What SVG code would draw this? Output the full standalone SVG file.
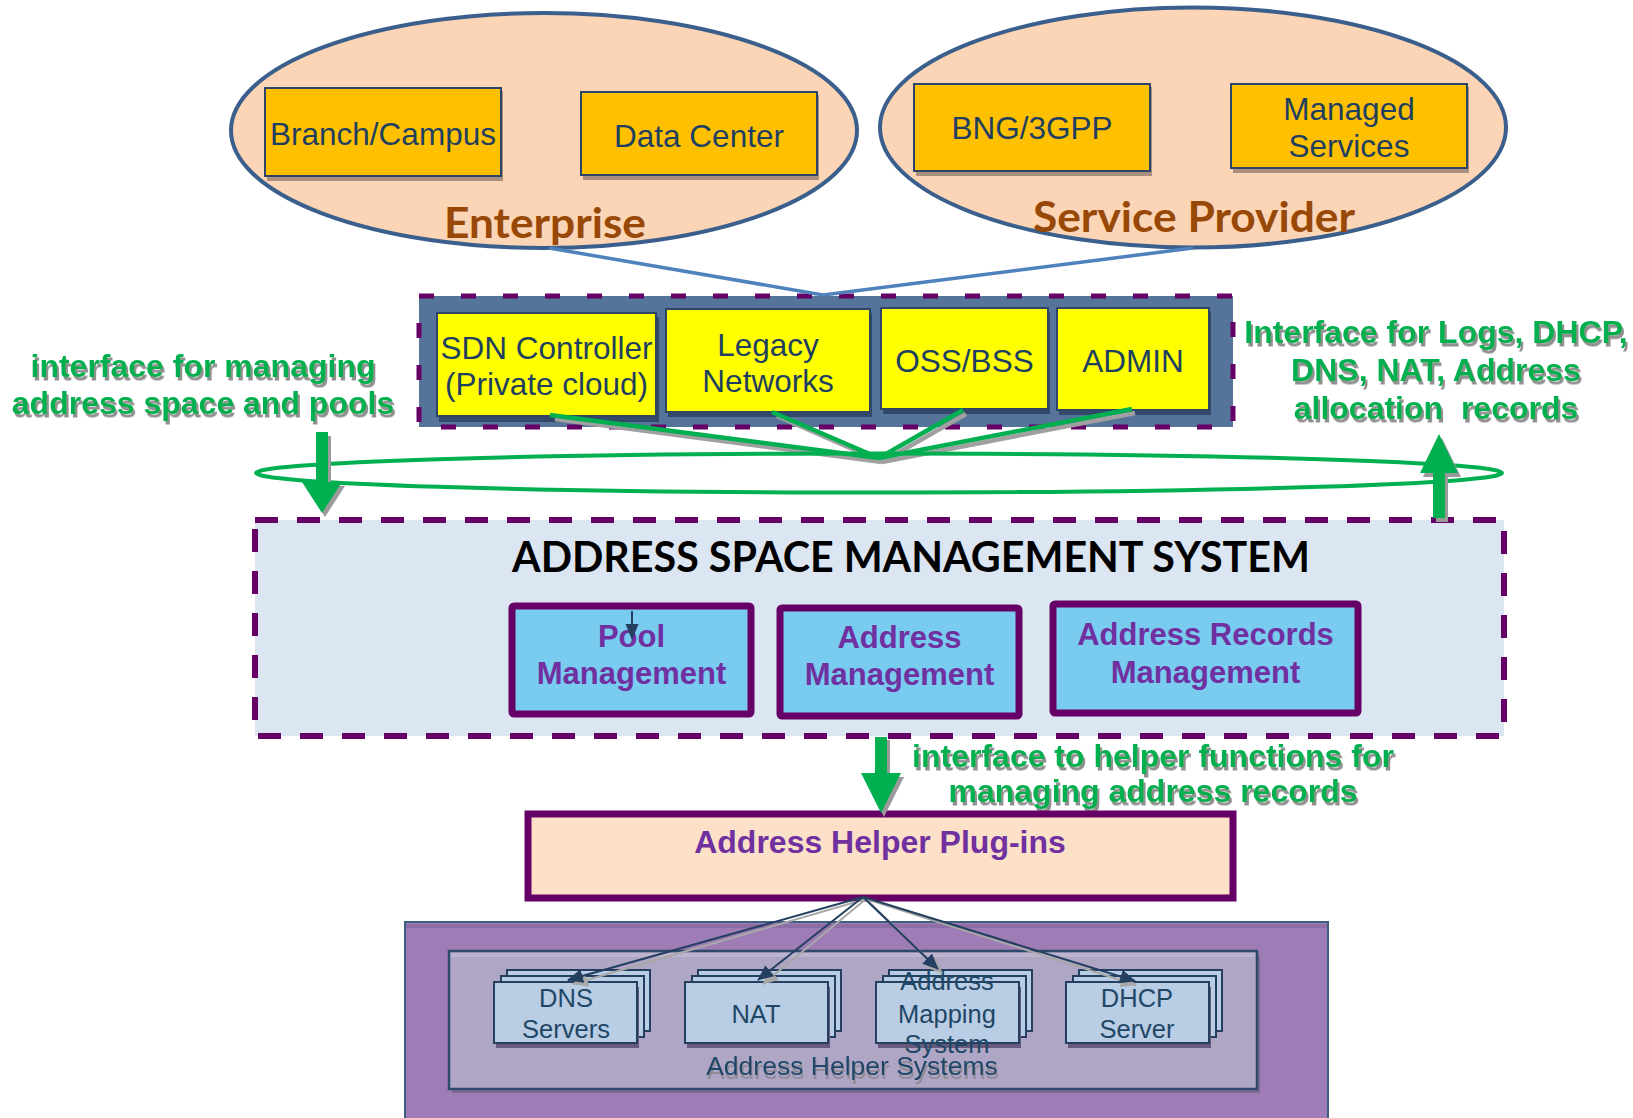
<svg xmlns="http://www.w3.org/2000/svg" width="1633" height="1118" viewBox="0 0 1633 1118">
<defs>
<style>
.sans{font-family:"Liberation Sans",Arial,sans-serif}
.lato{font-family:Lato,"Open Sans",sans-serif;font-weight:bold}
.oell{fill:#fbd5b5;stroke:#3b5f8c;stroke-width:4}
.obox{fill:#ffc000;stroke:#2a4566;stroke-width:2}
.oshd{fill:#a88f80}
.otxt{font-size:31.5px;fill:#1f3f60;text-anchor:middle}
.ybox{fill:#ffff00;stroke:#2f4566;stroke-width:2}
.yshd{fill:#34496a}
.gtxt{font-size:32px;font-weight:bold;fill:#00b050;text-anchor:middle;filter:url(#tsh)}
.pbox{fill:#79cbf0;stroke:#660066;stroke-width:7}
.ptxt{font-size:31px;font-weight:bold;fill:#7030a0;text-anchor:middle}
.sbox{fill:#b9cde5;stroke:#243f60;stroke-width:2}
.sshd{fill:#675a7c}
.stxt{font-size:25.5px;fill:#1f4766;text-anchor:middle}
.garrow{fill:#00b050}
.gshd{fill:#9a9a9a}
.gline{stroke:#00b050;stroke-width:4.5;fill:none}
.glshd{stroke:#a0a0a0;stroke-width:4.5;fill:none}
.conn{stroke:#243f60;stroke-width:2;fill:none;marker-end:url(#ah)}
.connshd{stroke:#a8a8a8;stroke-width:2;fill:none;marker-end:url(#ahs)}
</style>
<filter id="tsh" x="-5%" y="-20%" width="110%" height="150%">
<feDropShadow dx="2" dy="3.5" stdDeviation="0.5" flood-color="#8a8a8a" flood-opacity="0.95"/>
</filter>
<filter id="tsh2" x="-5%" y="-20%" width="110%" height="150%">
<feDropShadow dx="1" dy="4" stdDeviation="0.6" flood-color="#7a7a7a" flood-opacity="0.6"/>
</filter>
<marker id="ah" markerUnits="userSpaceOnUse" markerWidth="16" markerHeight="14" refX="15" refY="7" orient="auto">
<path d="M0,0 L16,7 L0,14 Z" fill="#243f60"/>
</marker>
<marker id="ahs" markerUnits="userSpaceOnUse" markerWidth="16" markerHeight="14" refX="15" refY="7" orient="auto">
<path d="M0,0 L16,7 L0,14 Z" fill="#a8a8a8"/>
</marker>
</defs>
<rect width="1633" height="1118" fill="#ffffff"/>

<!-- Enterprise -->
<g id="enterprise">
<ellipse class="oell" cx="544" cy="130.5" rx="313" ry="117.5"/>
<text class="lato" x="545" y="238" font-size="42" fill="#984807" text-anchor="middle" textLength="202" lengthAdjust="spacingAndGlyphs">Enterprise</text>
</g>
<g id="branch-campus">
<rect class="oshd" x="267" y="91" width="236" height="90"/>
<rect class="obox" x="265" y="88" width="236" height="88"/>
<text class="sans otxt" x="383" y="145">Branch/Campus</text>
</g>
<g id="data-center">
<rect class="oshd" x="583" y="95" width="236" height="85"/>
<rect class="obox" x="581" y="92" width="236" height="83"/>
<text class="sans otxt" x="699" y="147">Data Center</text>
</g>

<!-- Service Provider -->
<g id="service-provider">
<ellipse class="oell" cx="1193" cy="127.5" rx="313" ry="120"/>
<text class="lato" x="1194" y="232" font-size="42" fill="#984807" text-anchor="middle" textLength="322" lengthAdjust="spacingAndGlyphs">Service Provider</text>
</g>
<g id="bng-3gpp">
<rect class="oshd" x="916" y="87" width="236" height="89"/>
<rect class="obox" x="914" y="84" width="236" height="87"/>
<text class="sans otxt" x="1032" y="139">BNG/3GPP</text>
</g>
<g id="managed-services">
<rect class="oshd" x="1233" y="87" width="236" height="86"/>
<rect class="obox" x="1231" y="84" width="236" height="84"/>
<text class="sans otxt" x="1349" y="120">Managed</text>
<text class="sans otxt" x="1349" y="157">Services</text>
</g>

<!-- top container -->
<g id="consumers">
<rect x="419" y="296" width="814" height="131" fill="#56739a" stroke="#660066" stroke-width="5" stroke-dasharray="15 27"/>
</g>
<g id="sdn-controller">
<rect class="yshd" x="439" y="317" width="220" height="105"/>
<rect class="ybox" x="437" y="313" width="219" height="103"/>
<text class="sans otxt" x="546.5" y="359">SDN Controller</text>
<text class="sans otxt" x="546.5" y="395">(Private cloud)</text>
</g>
<g id="legacy-networks">
<rect class="yshd" x="668" y="313" width="204" height="104"/>
<rect class="ybox" x="666" y="309" width="204" height="103"/>
<text class="sans otxt" x="768" y="356">Legacy</text>
<text class="sans otxt" x="768" y="392">Networks</text>
</g>
<g id="oss-bss">
<rect class="yshd" x="883" y="312" width="167" height="102"/>
<rect class="ybox" x="881" y="308" width="167" height="101"/>
<text class="sans otxt" x="964.5" y="372">OSS/BSS</text>
</g>
<g id="admin">
<rect class="yshd" x="1059" y="312" width="152" height="103"/>
<rect class="ybox" x="1057" y="308" width="152" height="102"/>
<text class="sans otxt" x="1133" y="372">ADMIN</text>
</g>

<!-- interface labels -->
<g id="label-left">
<text class="sans gtxt" x="203" y="377">interface for managing</text>
<text class="sans gtxt" x="203" y="414">address space and pools</text>
</g>
<g id="label-right">
<text class="sans gtxt" x="1436" y="343">Interface for Logs, DHCP,</text>
<text class="sans gtxt" x="1436" y="381">DNS, NAT, Address</text>
<text class="sans gtxt" x="1436" y="419" xml:space="preserve" style="white-space:pre">allocation  records</text>
</g>

<!-- ASMS -->
<g id="asms">
<rect x="255" y="520" width="1249" height="216" fill="#dce6f2" stroke="#660066" stroke-width="6" stroke-dasharray="23 19"/>
<text class="lato" x="911" y="572" font-size="42" fill="#000000" text-anchor="middle" textLength="798" lengthAdjust="spacingAndGlyphs">ADDRESS SPACE MANAGEMENT SYSTEM</text>
</g>
<g id="pool-management">
<rect class="pbox" x="512" y="606" width="239" height="108" rx="2"/>
<text class="sans ptxt" x="631.5" y="647">Pool</text>
<text class="sans ptxt" x="631.5" y="684">Management</text>
</g>
<g id="address-management">
<rect class="pbox" x="780" y="608" width="239" height="108" rx="2"/>
<text class="sans ptxt" x="899.5" y="648">Address</text>
<text class="sans ptxt" x="899.5" y="685">Management</text>
</g>
<g id="address-records-management">
<rect class="pbox" x="1053" y="604" width="305" height="109" rx="2"/>
<text class="sans ptxt" x="1205.5" y="645">Address Records</text>
<text class="sans ptxt" x="1205.5" y="683">Management</text>
</g>

<g id="label-helper">
<text class="sans gtxt" x="1153" y="767">interface to helper functions for</text>
<text class="sans gtxt" x="1153" y="802">managing address records</text>
</g>

<!-- Helper plug-ins -->
<g id="address-helper-plugins">
<rect x="528" y="814" width="705" height="84" fill="#fce0c8" stroke="#660066" stroke-width="7"/>
<text class="sans" x="880" y="853" font-size="32" font-weight="bold" fill="#7030a0" text-anchor="middle">Address Helper Plug-ins</text>
</g>

<!-- bottom area -->
<g id="address-helper-area">
<rect x="405" y="922" width="923" height="210" fill="#9e7db6" stroke="#3f5f82" stroke-width="2"/>
<rect x="406" y="924" width="921" height="4" fill="#8d6ea6"/>
</g>
<g id="address-helper-systems">
<rect x="452" y="955" width="808" height="138" fill="#7c6a93"/>
<rect x="449" y="951" width="808" height="138" fill="#afa5c4" stroke="#2e4a6a" stroke-width="2.5"/>
<rect x="451" y="953" width="804" height="4" fill="#bdb4cf"/>
<text class="sans" x="852" y="1075" font-size="26.5" fill="#1f4766" text-anchor="middle" filter="url(#tsh2)">Address Helper Systems</text>
</g>
<g id="dns-servers">
<rect class="sbox" x="507" y="970" width="143" height="61"/>
<rect class="sbox" x="501" y="976" width="143" height="61"/>
<rect class="sshd" x="496" y="987" width="143" height="61"/>
<rect class="sbox" x="494" y="982" width="143" height="61"/>
<text class="sans stxt" x="566" y="1007">DNS</text>
<text class="sans stxt" x="566" y="1038">Servers</text>
</g>
<g id="nat">
<rect class="sbox" x="698" y="970" width="143" height="61"/>
<rect class="sbox" x="692" y="976" width="143" height="61"/>
<rect class="sshd" x="687" y="987" width="143" height="61"/>
<rect class="sbox" x="685" y="982" width="143" height="61"/>
<text class="sans stxt" x="756" y="1023">NAT</text>
</g>
<g id="address-mapping-system">
<rect class="sbox" x="889" y="970" width="143" height="61"/>
<rect class="sbox" x="883" y="976" width="143" height="61"/>
<rect class="sshd" x="878" y="987" width="143" height="61"/>
<rect class="sbox" x="876" y="982" width="143" height="61"/>
<text class="sans stxt" x="947" y="990">Address</text>
<text class="sans stxt" x="947" y="1023">Mapping</text>
<text class="sans stxt" x="947" y="1053">System</text>
</g>
<g id="dhcp-server">
<rect class="sbox" x="1079" y="970" width="143" height="61"/>
<rect class="sbox" x="1073" y="976" width="143" height="61"/>
<rect class="sshd" x="1068" y="987" width="143" height="61"/>
<rect class="sbox" x="1066" y="982" width="143" height="61"/>
<text class="sans stxt" x="1137" y="1007">DHCP</text>
<text class="sans stxt" x="1137" y="1038">Server</text>
</g>

<!-- connectors -->
<g id="connectors">
<line x1="549" y1="248" x2="823" y2="295" stroke="#4f81bd" stroke-width="3.5"/>
<line x1="1193" y1="248" x2="823" y2="295" stroke="#4f81bd" stroke-width="3.5"/>
<polyline class="glshd" points="555,419 882,462"/>
<polyline class="glshd" points="777,416 882,462"/>
<polyline class="glshd" points="966,414 882,462"/>
<polyline class="glshd" points="1135,413 882,462"/>
<line class="gline" x1="550" y1="415" x2="879" y2="458"/>
<line class="gline" x1="772" y1="412" x2="879" y2="458"/>
<line class="gline" x1="963" y1="410" x2="879" y2="458"/>
<line class="gline" x1="1132" y1="409" x2="879" y2="458"/>
<ellipse cx="879" cy="473" rx="623" ry="19.5" fill="none" stroke="#00b050" stroke-width="4"/>
<polygon class="gshd" points="319,436 331,436 331,486 345,486 325,517 305,486 319,486"/>
<polygon class="garrow" points="316,432 328,432 328,482 342,482 322,513 302,482 316,482"/>
<polygon class="gshd" points="1436,522 1448,522 1448,477 1461,477 1442,438 1423,477 1436,477"/>
<polygon class="garrow" points="1433,518 1445,518 1445,473 1458,473 1439,434 1420,473 1433,473"/>
<polygon class="gshd" points="878,740 890,740 890,777 904,777 884,817 864,777 878,777"/>
<polygon class="garrow" points="875,737 887,737 887,773 901,773 881,813 861,773 875,773"/>
<line x1="632" y1="611" x2="632" y2="626" stroke="#243f60" stroke-width="2"/>
<path d="M625.5,624 L638.5,624 L632,640 Z" fill="#243f60"/>
<line class="connshd" x1="866" y1="899" x2="573" y2="984"/>
<line class="connshd" x1="866" y1="899" x2="763" y2="984"/>
<line class="connshd" x1="866" y1="899" x2="942" y2="973"/>
<line class="connshd" x1="866" y1="899" x2="1136" y2="985"/>
<line class="conn" x1="863" y1="897" x2="568" y2="980"/>
<line class="conn" x1="863" y1="897" x2="758" y2="980"/>
<line class="conn" x1="863" y1="897" x2="938" y2="969"/>
<line class="conn" x1="863" y1="897" x2="1135" y2="981"/>
</g>
</svg>
